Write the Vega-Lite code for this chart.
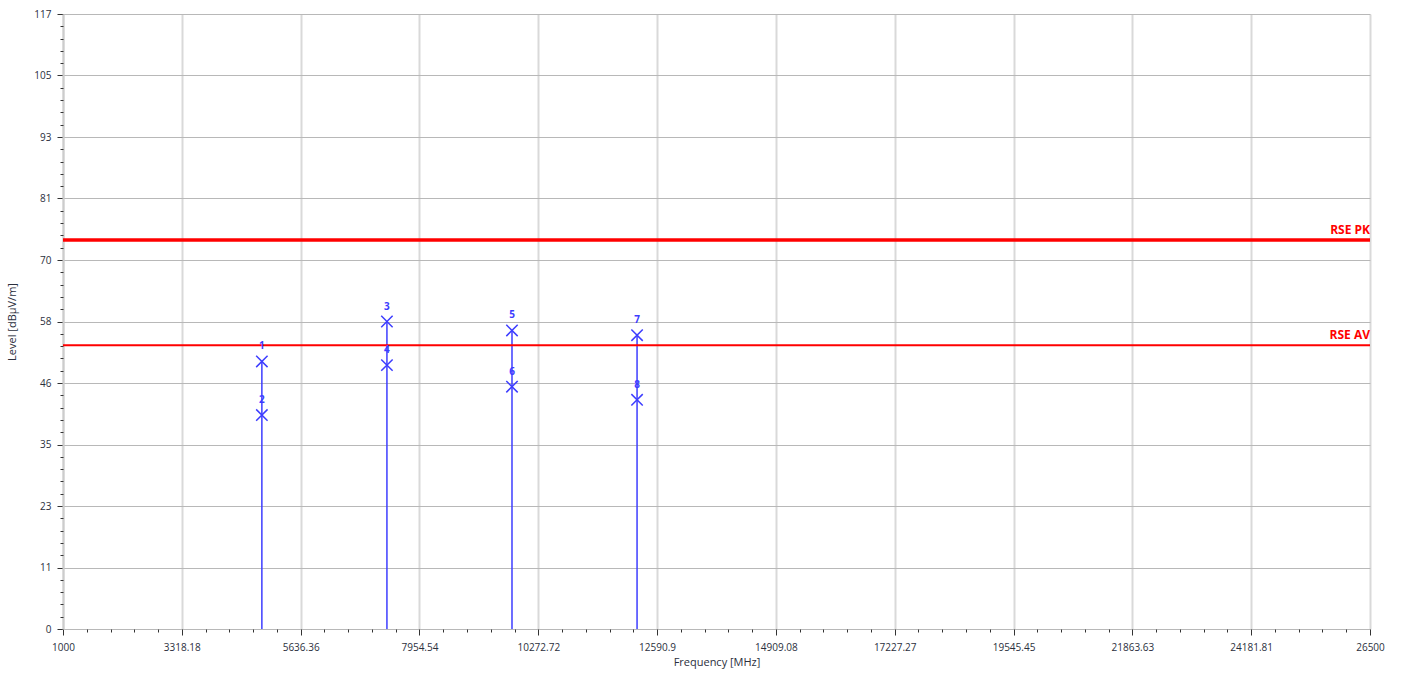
{
  "$schema": "https://vega.github.io/schema/vega-lite/v6.json",
  "width": 1307,
  "height": 615,
  "autosize": {"type": "none"},
  "padding": {"left": 63, "top": 14, "right": 31, "bottom": 44},
  "background": "white",
  "config": {
    "view": {"stroke": null},
    "axis": {"labelFont": "Open Sans", "titleFont": "Open Sans", "labelColor": "#2b2f3d", "titleColor": "#2b2f3d", "labelFontSize": 10, "titleFontSize": 11, "titleFontWeight": "normal"}
  },
  "datasets": {
    "markers": [
      {"freq": 4880, "level": 50.9, "label": "1", "det": "PK"},
      {"freq": 4880, "level": 40.7, "label": "2", "det": "AV"},
      {"freq": 7320, "level": 58.5, "label": "3", "det": "PK"},
      {"freq": 7320, "level": 50.2, "label": "4", "det": "AV"},
      {"freq": 9760, "level": 56.8, "label": "5", "det": "PK"},
      {"freq": 9760, "level": 46.1, "label": "6", "det": "AV"},
      {"freq": 12200, "level": 55.9, "label": "7", "det": "PK"},
      {"freq": 12200, "level": 43.6, "label": "8", "det": "AV"}
    ],
    "limits": [
      {"limit": "RSE PK", "level": 74, "w": 3.5},
      {"limit": "RSE AV", "level": 54, "w": 2}
    ]
  },
  "resolve": {"axis": {"x": "independent", "y": "independent"}},
  "layer": [
    {
      "layer": [
        {
          "data": {"name": "markers"},
          "transform": [{"filter": "datum.det === 'PK'"}],
          "mark": {"type": "rule", "color": "#3d3dff", "strokeWidth": 1.5},
          "encoding": {
            "x": {
              "field": "freq", "type": "quantitative",
              "scale": {"domain": [1000, 26500], "nice": false, "zero": false},
              "axis": {
                "title": "Frequency [MHz]",
                "values": [1000, 3318.18, 5636.36, 7954.54, 10272.72, 12590.9, 14909.08, 17227.27, 19545.45, 21863.63, 24181.81, 26500],
                "labelExpr": "'' + datum.value",
                "grid": true, "gridColor": "#d9d9d9", "gridWidth": 2,
                "domain": false, "tickColor": "#333", "tickSize": 6,
                "labelPadding": 7, "titlePadding": 4, "labelFlush": false
              }
            },
            "y": {
              "field": "level", "type": "quantitative",
              "scale": {"domain": [0, 117], "nice": false},
              "axis": {
                "title": "Level [dBµV/m]",
                "values": [0, 11.7, 23.4, 35.1, 46.8, 58.5, 70.2, 81.9, 93.6, 105.3, 117],
                "labelExpr": "'' + floor(datum.value)",
                "grid": true, "gridColor": "#b8b8b8", "gridWidth": 1,
                "domain": true, "domainColor": "#cccccc", "domainWidth": 2,
                "tickColor": "#333", "tickSize": 6, "labelPadding": 6, "titlePadding": 16
              }
            },
            "y2": {"datum": 0}
          }
        },
        {
          "data": {"name": "limits"},
          "mark": {"type": "rule", "color": "#ff0000"},
          "encoding": {
            "y": {"field": "level", "type": "quantitative"},
            "strokeWidth": {"field": "w", "type": "quantitative", "scale": null}
          }
        },
        {
          "data": {"name": "limits"},
          "mark": {"type": "text", "color": "#ff0000", "fontWeight": "bold", "font": "Open Sans", "fontSize": 12, "align": "right", "baseline": "bottom", "dy": -3},
          "encoding": {
            "x": {"datum": 26500},
            "y": {"field": "level", "type": "quantitative"},
            "text": {"field": "limit"}
          }
        },
        {
          "data": {"name": "markers"},
          "mark": {"type": "point", "shape": "M-1,-1L1,1M-1,1L1,-1", "filled": false, "color": "#3d3dff", "strokeWidth": 1.5, "size": 130, "opacity": 1},
          "encoding": {
            "x": {"field": "freq", "type": "quantitative"},
            "y": {"field": "level", "type": "quantitative"}
          }
        },
        {
          "data": {"name": "markers"},
          "mark": {"type": "text", "color": "#3d3dff", "fontWeight": "bold", "font": "Open Sans", "fontSize": 10, "baseline": "bottom", "dy": -10},
          "encoding": {
            "x": {"field": "freq", "type": "quantitative"},
            "y": {"field": "level", "type": "quantitative"},
            "text": {"field": "label"}
          }
        }
      ]
    },
    {
      "data": {"name": "markers"},
      "mark": {"type": "point", "opacity": 0},
      "encoding": {
        "x": {
          "field": "freq", "type": "quantitative",
          "axis": {"orient": "bottom", "title": null, "labels": false, "grid": false, "domain": false, "tickColor": "#333", "tickSize": 3,
            "values": [1463.6, 1927.3, 2390.9, 2854.5, 3781.8, 4245.5, 4709.1, 5172.7, 6100, 6563.6, 7027.3, 7490.9, 8418.2, 8881.8, 9345.5, 9809.1, 10736.4, 11200, 11663.6, 12127.3, 13054.5, 13518.2, 13981.8, 14445.5, 15372.7, 15836.4, 16300, 16763.6, 17690.9, 18154.5, 18618.2, 19081.8, 20009.1, 20472.7, 20936.4, 21400, 22327.3, 22790.9, 23254.5, 23718.2, 24645.5, 25109.1, 25572.7, 26036.4]}
        },
        "y": {
          "field": "level", "type": "quantitative",
          "axis": {"orient": "left", "title": null, "labels": false, "grid": false, "domain": false, "tickColor": "#333", "tickSize": 3,
            "values": [2.34, 4.68, 7.02, 9.36, 14.04, 16.38, 18.72, 21.06, 25.74, 28.08, 30.42, 32.76, 37.44, 39.78, 42.12, 44.46, 49.14, 51.48, 53.82, 56.16, 60.84, 63.18, 65.52, 67.86, 72.54, 74.88, 77.22, 79.56, 84.24, 86.58, 88.92, 91.26, 95.94, 98.28, 100.62, 102.96, 107.64, 109.98, 112.32, 114.66]}
        }
      }
    }
  ]
}
